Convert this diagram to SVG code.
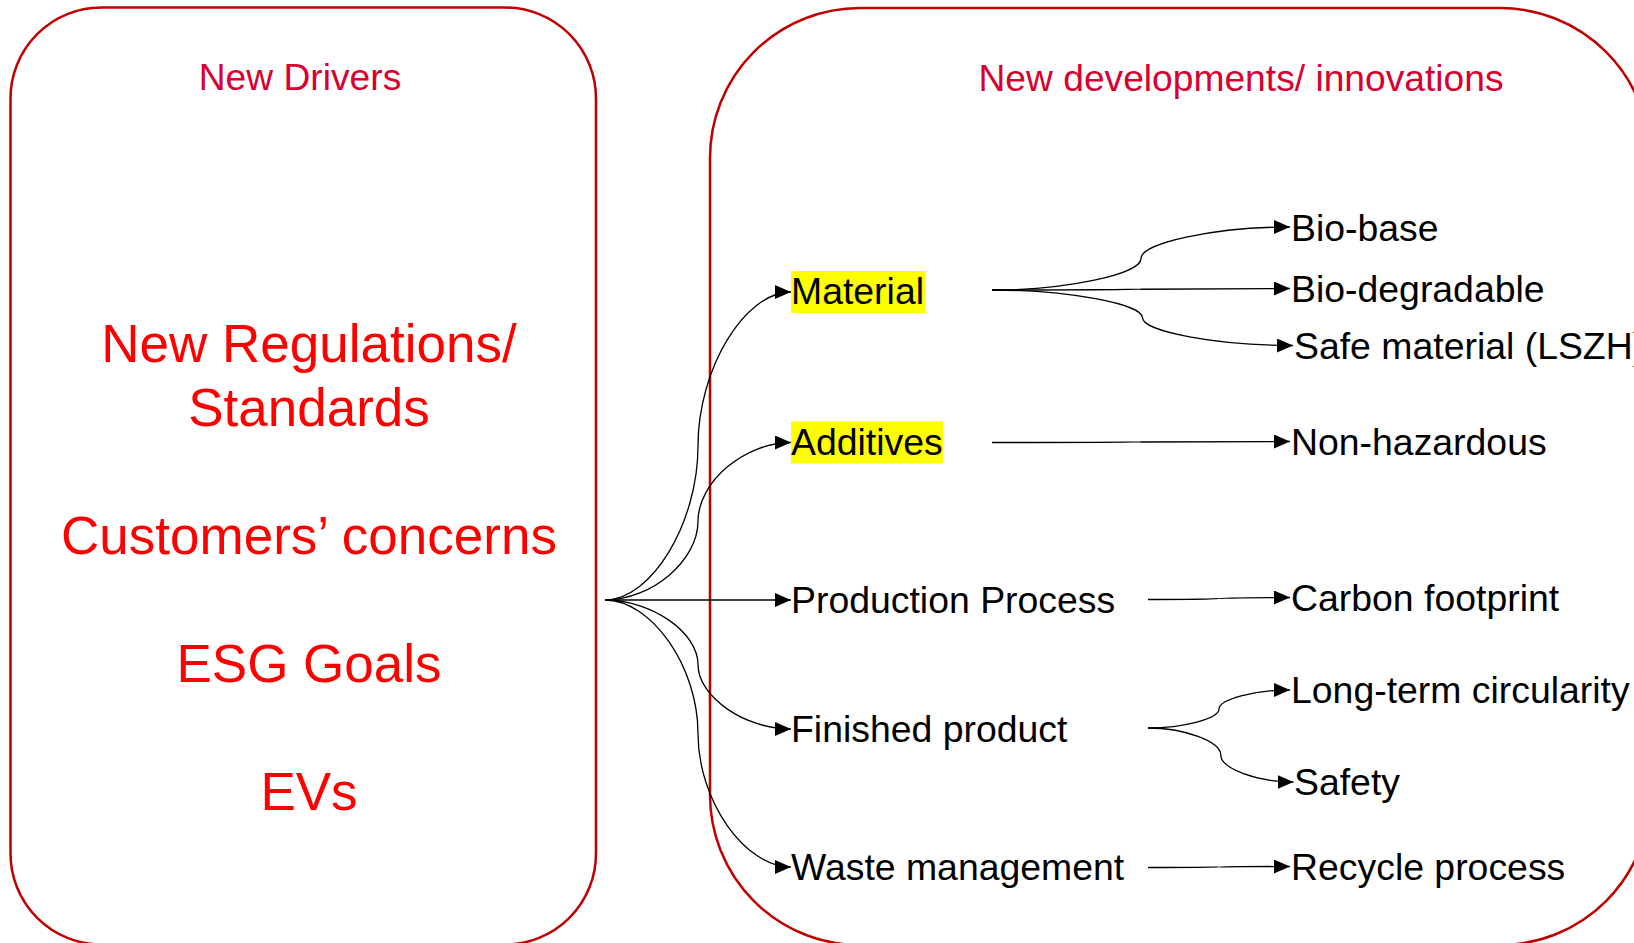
<svg xmlns="http://www.w3.org/2000/svg" width="1634" height="943" viewBox="0 0 1634 943">
<style>
.box{fill:#FFFFFF;stroke:#C00000;stroke-width:2.5}
.head{font-family:"Liberation Sans",Arial,sans-serif;font-size:37.2px;fill:#D70030;text-anchor:middle}
.big{font-family:"Liberation Sans",Arial,sans-serif;font-size:53px;fill:#FF0000;text-anchor:middle}
.lbl{font-family:"Liberation Sans",Arial,sans-serif;font-size:37.4px;fill:#000000}
.hl{fill:#FFFF00}
.con{fill:none;stroke:#000000;stroke-width:1.3;marker-end:url(#arr)}
</style>
<defs>
<marker id="arr" markerUnits="userSpaceOnUse" markerWidth="17" markerHeight="15" refX="16" refY="7" orient="auto">
<path d="M0,0 L16,7 L0,14 Z" fill="#000000"/>
</marker>
</defs>
<rect width="1634" height="943" fill="#FFFFFF"/>
<g id="drivers">
<rect class="box" x="10.5" y="7.5" width="585.5" height="937" rx="91" ry="91"/>
<text class="head" x="300" y="89.5">New Drivers</text>
<text class="big" x="309" y="361.5">New Regulations/</text>
<text class="big" x="309" y="425.5">Standards</text>
<text class="big" x="309" y="553.5">Customers’ concerns</text>
<text class="big" x="309" y="681.5">ESG Goals</text>
<text class="big" x="309" y="809.5">EVs</text>
</g>
<g id="developments">
<rect class="box" x="710" y="8" width="940" height="937" rx="150" ry="150"/>
<text class="head" x="1241" y="90.5">New developments/ innovations</text>
</g>
<g id="material">
<rect class="hl" x="791" y="271" width="134" height="42"/>
<text class="lbl" x="791" y="304">Material</text>
</g>
<g id="additives">
<rect class="hl" x="791" y="421.5" width="152" height="42"/>
<text class="lbl" x="791" y="455">Additives</text>
</g>
<g id="production"><text class="lbl" x="791" y="613">Production Process</text></g>
<g id="finished"><text class="lbl" x="791" y="742">Finished product</text></g>
<g id="waste"><text class="lbl" x="791" y="879.5">Waste management</text></g>
<g id="biobase"><text class="lbl" x="1291" y="240.5">Bio-base</text></g>
<g id="biodegradable"><text class="lbl" x="1291" y="301.5">Bio-degradable</text></g>
<g id="safematerial"><text class="lbl" x="1294" y="358.5">Safe material (LSZH)</text></g>
<g id="nonhazardous"><text class="lbl" x="1291" y="454.5">Non-hazardous</text></g>
<g id="carbon"><text class="lbl" x="1291" y="611">Carbon footprint</text></g>
<g id="longterm"><text class="lbl" x="1291" y="703">Long-term circularity</text></g>
<g id="safety"><text class="lbl" x="1294" y="795">Safety</text></g>
<g id="recycle"><text class="lbl" x="1291" y="879.5">Recycle process</text></g>
<g id="connectors">
<path class="con" d="M605,600 C651.5,600 698,523 698,446 C698,369 744.5,292 791,292"/>
<path class="con" d="M605,600 C651.5,600 698,560.6 698,521.25 C698,481.9 744.5,442.5 791,442.5"/>
<path class="con" d="M605,600 L791,600"/>
<path class="con" d="M605,600 C651.5,600 698,632.25 698,664.5 C698,696.75 744.5,729 791,729"/>
<path class="con" d="M605,600 C651.5,600 698,666.75 698,733.5 C698,800.25 744.5,867 791,867"/>
<path class="con" d="M992,290 C1066.5,290 1141,274.25 1141,258.5 C1141,242.75 1215.5,227 1290,227"/>
<path class="con" d="M992,290 C1066.5,290 1141,289.6 1141,289.25 C1141,288.9 1215.5,288.5 1290,288.5"/>
<path class="con" d="M992,290 C1067.25,290 1142.5,303.9 1142.5,317.75 C1142.5,331.6 1217.75,345.5 1293,345.5"/>
<path class="con" d="M992,442.5 C1066.5,442.5 1141,442.25 1141,442 C1141,441.75 1215.5,441.5 1290,441.5"/>
<path class="con" d="M1148,599.5 C1183.5,599.5 1219,599 1219,598.5 C1219,598 1254.5,597.5 1290,597.5"/>
<path class="con" d="M1148,728 C1183.5,728 1219,718.5 1219,709 C1219,699.5 1254.5,690 1290,690"/>
<path class="con" d="M1148,728 C1184.4,728 1220.75,741.5 1220.75,755 C1220.75,768.5 1257.1,782 1293.5,782"/>
<path class="con" d="M1148,867.5 C1183.5,867.5 1219,867.25 1219,867 C1219,866.75 1254.5,866.5 1290,866.5"/>
</g>
</svg>
